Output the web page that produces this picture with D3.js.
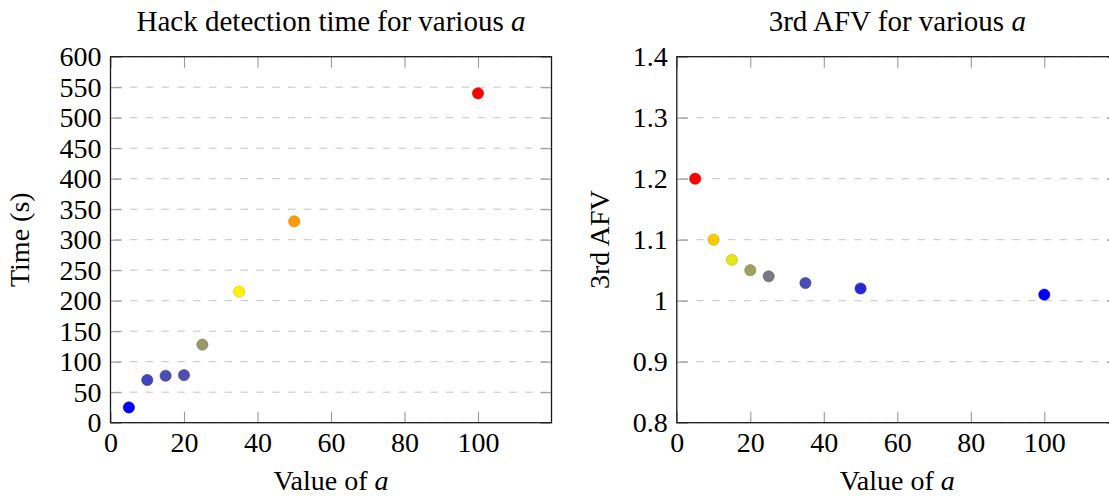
<!DOCTYPE html>
<html>
<head>
<meta charset="utf-8">
<script src="https://cdn.jsdelivr.net/npm/d3@7"></script>
<style>
  html, body { margin: 0; padding: 0; background: #fff; }
  svg { display: block; }
  svg text { font-family: "Liberation Serif", "Times New Roman", serif; }
</style>
</head>
<body>
<svg width="1109" height="498"></svg>
<script>
const aValues = [5, 10, 15, 20, 25, 35, 50, 100];
const hackTimes = [25, 70, 77, 78, 128, 215, 330, 540];
const afvValues = [1.2, 1.1, 1.067, 1.05, 1.04, 1.029, 1.02, 1.01];
const xTicks = [0, 20, 40, 60, 80, 100];
const timeTicks = [0, 50, 100, 150, 200, 250, 300, 350, 400, 450, 500, 550, 600];
const afvTicks = [0.8, 0.9, 1, 1.1, 1.2, 1.3, 1.4];

const svg = d3.select("svg");
const plotTop = 56.7, plotBottom = 422.7, plotW = 441;
const serif = "Liberation Serif, Times New Roman, serif";

const panels = [
  { left: 110.5, title: "Hack detection time for various ", ylabel: "Time (s)", yLabelX: 29,
    values: hackTimes, domain: [0, 600], ticks: timeTicks },
  { left: 676.8, title: "3rd AFV for various ", ylabel: "3rd AFV", yLabelX: 609,
    values: afvValues, domain: [0.8, 1.4], ticks: afvTicks }
];

// pgfplots "hot" colormap: blue -> yellow -> orange -> red, mapped on y
function colormap(vals) {
  const [lo, hi] = d3.extent(vals);
  const s = (hi - lo) / 3;
  return d3.scaleLinear()
    .domain([lo, lo + s, lo + 2 * s, hi])
    .range(["#0000ff", "#ffff00", "#ff8000", "#ff0000"])
    .interpolate(d3.interpolateRgb);
}

panels.forEach(p => {
  const x = d3.scaleLinear().domain([0, 120]).range([p.left, p.left + plotW]);
  const y = d3.scaleLinear().domain(p.domain).range([plotBottom, plotTop]);
  const color = colormap(p.values);
  const g = svg.append("g");

  g.append("g")
    .selectAll("line")
    .data(p.ticks)
    .join("line")
    .attr("x1", x(0))
    .attr("x2", x(120))
    .attr("y1", d => y(d))
    .attr("y2", d => y(d))
    .attr("stroke", "#c4c4c4")
    .attr("stroke-width", 1)
    .attr("stroke-dasharray", "7.4,8.4")
    .attr("stroke-dashoffset", 12.1);

  const axes = [
    [d3.axisBottom(x).tickValues(xTicks).tickPadding(9.5), `translate(0,${plotBottom})`, true],
    [d3.axisTop(x).tickValues(xTicks).tickFormat(""), `translate(0,${plotTop})`, false],
    [d3.axisLeft(y).tickValues(p.ticks).tickFormat(d3.format("~g")).tickPadding(9), `translate(${x(0)},0)`, true],
    [d3.axisRight(y).tickValues(p.ticks).tickFormat(""), `translate(${x(120)},0)`, false]
  ];
  axes.forEach(([axis, tr, labels]) => {
    const a = g.append("g")
      .attr("transform", tr)
      .call(axis.tickSizeInner(-11).tickSizeOuter(0));
    a.select(".domain").remove();
    a.selectAll(".tick line").attr("stroke", "#9a9a9a").attr("stroke-width", 1.1);
    a.attr("font-size", 28).attr("font-family", serif);
    a.selectAll("text").attr("fill", "#000").attr("font-family", serif);
    if (!labels) a.selectAll("text").remove();
  });

  g.append("rect")
    .attr("x", x(0))
    .attr("y", plotTop)
    .attr("width", x(120) - x(0))
    .attr("height", plotBottom - plotTop)
    .attr("fill", "none")
    .attr("stroke", "#1a1a1a")
    .attr("stroke-width", 1.3);

  g.append("g")
    .selectAll("circle")
    .data(aValues.map((a, i) => ({ a, v: p.values[i] })))
    .join("circle")
    .attr("cx", d => x(d.a))
    .attr("cy", d => y(d.v))
    .attr("r", 5.6)
    .attr("fill", d => color(d.v))
    .attr("stroke", d => d3.interpolateRgb(color(d.v), "#000")(0.2))
    .attr("stroke-width", 0.6);

  const cx = p.left + plotW / 2;
  const t = g.append("text")
    .attr("x", cx)
    .attr("y", 31)
    .attr("text-anchor", "middle")
    .attr("font-size", 29)
    .text(p.title);
  t.append("tspan").attr("font-style", "italic").text("a");

  const xl = g.append("text")
    .attr("x", cx)
    .attr("y", 490)
    .attr("text-anchor", "middle")
    .attr("font-size", 28)
    .text("Value of ");
  xl.append("tspan").attr("font-style", "italic").text("a");

  g.append("text")
    .attr("transform", `translate(${p.yLabelX},${(plotTop + plotBottom) / 2}) rotate(-90)`)
    .attr("text-anchor", "middle")
    .attr("font-size", 28)
    .text(p.ylabel);
});
</script>
</body>
</html>
